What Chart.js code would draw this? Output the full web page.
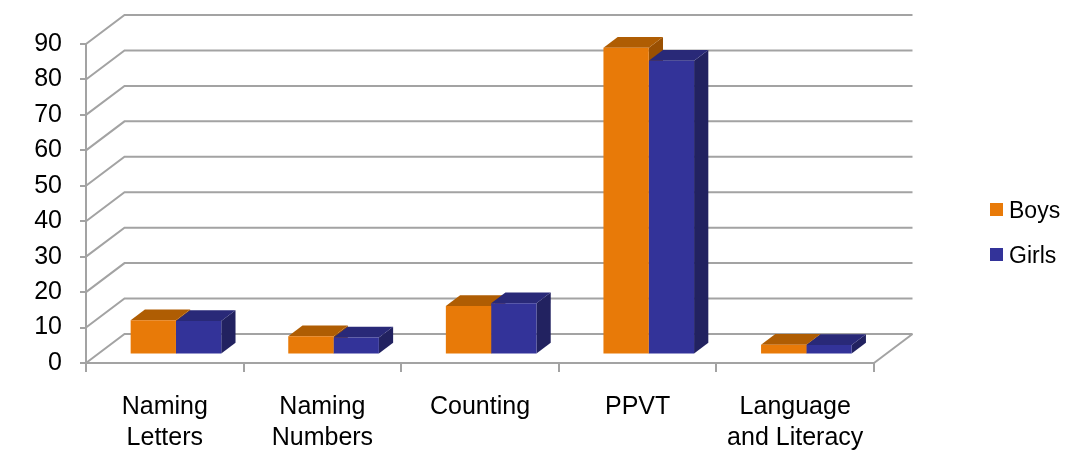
<!DOCTYPE html>
<html>
<head>
<meta charset="utf-8">
<title>Boys and Girls Scores</title>
<script src="https://cdn.jsdelivr.net/npm/chart.js@4.4.1/dist/chart.umd.min.js"></script>
<style>
  html, body { margin: 0; padding: 0; background: #fff; }
  #wrap { width: 1067px; height: 450px; }
</style>
</head>
<body>
<div id="wrap"><canvas id="chart" width="1067" height="450"></canvas></div>
<script>
// Categories and series
const categories = [
  ['Naming', 'Letters'],
  ['Naming', 'Numbers'],
  'Counting',
  'PPVT',
  ['Language', 'and Literacy']
];
const seriesNames = ['Boys', 'Girls'];
const boys  = [9.7, 5.2, 13.7, 86.6, 2.8];
const girls = [9.5, 4.8, 14.5, 82.9, 2.7];
const yTicks = [0, 10, 20, 30, 40, 50, 60, 70, 80, 90];

// Face colours: front, top, side
const palette = {
  Boys:  { front: '#E87A08', top: '#AF5D03', side: '#9A5002' },
  Girls: { front: '#333399', top: '#292978', side: '#222260' }
};

const FONT = '"Liberation Sans", Arial, sans-serif';
const GRID = '#A3A3A3';

// Oblique depth of the plot box and the slab the bars sit in
const DEPTH = { dx: 38.5, dy: -29 };
const SLAB = { front: 0.29, back: 0.66 };

const depthPlugin = {
  id: 'depth3d',
  beforeDatasetsDraw(chart) {
    const ctx = chart.ctx;
    const ys = chart.scales.y;
    const area = chart.chartArea;
    const L = area.left, R = area.right;

    // back wall grid + left wall diagonals
    ctx.save();
    ctx.strokeStyle = GRID;
    ctx.lineWidth = 2;
    ctx.lineCap = 'butt';
    yTicks.forEach(v => {
      const y = ys.getPixelForValue(v);
      ctx.beginPath();
      ctx.moveTo(L, y);
      ctx.lineTo(L + DEPTH.dx, y + DEPTH.dy);
      ctx.lineTo(R + DEPTH.dx, y + DEPTH.dy);
      ctx.stroke();
    });
    // floor right edge
    const y0 = ys.getPixelForValue(0);
    ctx.beginPath();
    ctx.moveTo(R, y0);
    ctx.lineTo(R + DEPTH.dx, y0 + DEPTH.dy);
    ctx.stroke();
    ctx.restore();

    // bar tops and sides, in the bar slab
    const ox = DEPTH.dx * SLAB.front, oy = DEPTH.dy * SLAB.front;
    const bx = DEPTH.dx * (SLAB.back - SLAB.front), by = DEPTH.dy * (SLAB.back - SLAB.front);
    const boxes = [];
    chart.data.datasets.forEach((ds, i) => {
      chart.getDatasetMeta(i).data.forEach(el => {
        const p = el.getProps(['x', 'y', 'base', 'width'], true);
        boxes.push({ l: p.x - p.width / 2, r: p.x + p.width / 2, t: p.y, b: p.base, c: palette[ds.label] });
      });
    });
    ctx.save();
    ctx.translate(ox, oy);
    boxes.forEach(q => {
      ctx.fillStyle = q.c.side;
      ctx.beginPath();
      ctx.moveTo(q.r, q.t);
      ctx.lineTo(q.r + bx, q.t + by);
      ctx.lineTo(q.r + bx, q.b + by);
      ctx.lineTo(q.r, q.b);
      ctx.closePath();
      ctx.fill();
    });
    boxes.forEach(q => {
      ctx.fillStyle = q.c.top;
      ctx.beginPath();
      ctx.moveTo(q.l, q.t);
      ctx.lineTo(q.l + bx, q.t + by);
      ctx.lineTo(q.r + bx, q.t + by);
      ctx.lineTo(q.r, q.t);
      ctx.closePath();
      ctx.fill();
    });
    ctx.restore();

    // front faces are drawn by the library in the same slab
    ctx.save();
    ctx.translate(ox, oy);
  },
  afterDatasetsDraw(chart) {
    chart.ctx.restore();
  },
  afterDraw(chart) {
    // legend on the right
    const ctx = chart.ctx;
    ctx.save();
    ctx.font = '23px ' + FONT;
    ctx.textBaseline = 'alphabetic';
    ctx.textAlign = 'left';
    chart.data.datasets.forEach((ds, i) => {
      const top = 203 + i * 45;
      ctx.fillStyle = ds.backgroundColor;
      ctx.fillRect(990, top, 13, 13);
      ctx.fillStyle = '#000';
      ctx.fillText(ds.label, 1009, top + 15);
    });
    ctx.restore();
  }
};

new Chart(document.getElementById('chart'), {
  type: 'bar',
  data: {
    labels: categories,
    datasets: [
      { label: seriesNames[0], data: boys,  backgroundColor: palette.Boys.front,  borderWidth: 0, clip: false },
      { label: seriesNames[1], data: girls, backgroundColor: palette.Girls.front, borderWidth: 0, clip: false }
    ]
  },
  options: {
    responsive: false,
    animation: false,
    events: [],
    layout: { padding: { left: 0, top: 44, right: 193, bottom: 0 } },
    datasets: { bar: { categoryPercentage: 0.575, barPercentage: 1 } },
    plugins: { legend: { display: false }, tooltip: { enabled: false } },
    scales: {
      x: {
        grid: { offset: true, drawOnChartArea: false, tickLength: 9, color: GRID, lineWidth: 2 },
        border: { color: GRID, width: 2 },
        ticks: { color: '#000', font: { family: FONT, size: 25, lineHeight: 1.22 }, padding: 20, maxRotation: 0, autoSkip: false },
        afterFit(s) { s.height = 87; }
      },
      y: {
        min: 0, max: 90,
        grid: { drawOnChartArea: false, tickLength: 6, color: GRID, lineWidth: 2 },
        border: { color: GRID, width: 2 },
        ticks: { stepSize: 10, color: '#000', font: { family: FONT, size: 25 }, padding: 18 },
        afterFit(s) { s.width = 86; }
      }
    }
  },
  plugins: [depthPlugin]
});
</script>
</body>
</html>
